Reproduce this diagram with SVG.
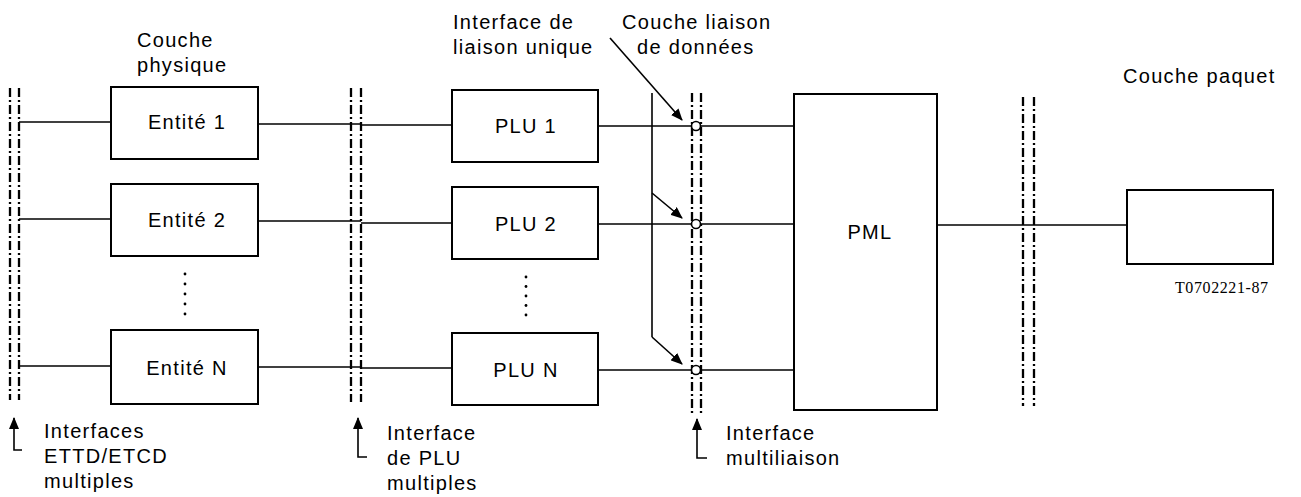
<svg xmlns="http://www.w3.org/2000/svg" width="1301" height="497" viewBox="0 0 1301 497">
<defs>
<marker id="ah" viewBox="0 0 12 10" refX="11" refY="5" markerWidth="12" markerHeight="10" markerUnits="userSpaceOnUse" orient="auto">
<path d="M0,0 L12,5 L0,10 Z" fill="#000"/>
</marker>
</defs>
<style>
text{font-family:"Liberation Sans",Arial,sans-serif;font-size:20px;letter-spacing:1.3px;fill:#000}
.c{text-anchor:middle}
.box{fill:#fff;stroke:#000;stroke-width:2}
.ln{fill:none;stroke:#000;stroke-width:1.6}
.itf{fill:none;stroke:#000;stroke-width:2.3;stroke-dasharray:9 3 2 3}
.dot{fill:#000}
.ser{font-family:"Liberation Serif","Times New Roman",serif;font-size:16px;letter-spacing:0.6px}
</style>
<rect width="1301" height="497" fill="#fff"/>

<g id="interfaces">
<line class="itf" x1="10" y1="88" x2="10" y2="400"/>
<line class="itf" x1="19" y1="88" x2="19" y2="400"/>
<line class="itf" x1="351" y1="88" x2="351" y2="402"/>
<line class="itf" x1="361" y1="88" x2="361" y2="402"/>
<line class="itf" x1="692" y1="93" x2="692" y2="415"/>
<line class="itf" x1="701" y1="93" x2="701" y2="415"/>
<line class="itf" x1="1023" y1="97" x2="1023" y2="406"/>
<line class="itf" x1="1034" y1="97" x2="1034" y2="406"/>
</g>

<g id="connectors">
<line class="ln" x1="19" y1="122" x2="111" y2="122"/>
<line class="ln" x1="19" y1="219" x2="111" y2="219"/>
<line class="ln" x1="19" y1="366" x2="111" y2="366"/>
<line class="ln" x1="258" y1="124" x2="361" y2="124"/>
<line class="ln" x1="258" y1="221" x2="361" y2="221"/>
<line class="ln" x1="258" y1="367" x2="361" y2="367"/>
<line class="ln" x1="361" y1="125" x2="452" y2="125"/>
<line class="ln" x1="361" y1="223" x2="452" y2="223"/>
<line class="ln" x1="361" y1="368" x2="452" y2="368"/>
<line class="ln" x1="598" y1="126" x2="794" y2="126"/>
<line class="ln" x1="598" y1="224" x2="794" y2="224"/>
<line class="ln" x1="598" y1="370" x2="794" y2="370"/>
<line class="ln" x1="937" y1="225" x2="1127" y2="225"/>
<polyline class="ln" points="652,93 652,337"/>
<line class="ln" x1="610" y1="38" x2="682" y2="120" marker-end="url(#ah)"/>
<line class="ln" x1="652" y1="193" x2="682" y2="218" marker-end="url(#ah)"/>
<line class="ln" x1="652" y1="337" x2="682" y2="364" marker-end="url(#ah)"/>
<circle cx="696" cy="126" r="4.5" fill="#fff" stroke="#000" stroke-width="1.6"/>
<circle cx="696" cy="224" r="4.5" fill="#fff" stroke="#000" stroke-width="1.6"/>
<circle cx="696" cy="370" r="4.5" fill="#fff" stroke="#000" stroke-width="1.6"/>
<polyline class="ln" points="22,450 14,450 14,418" marker-end="url(#ah)"/>
<polyline class="ln" points="367,457 358,457 358,418" marker-end="url(#ah)"/>
<polyline class="ln" points="707,458 697,458 697,419" marker-end="url(#ah)"/>
</g>

<g id="entite1"><rect class="box" x="111" y="87" width="147" height="72"/><text class="c" x="187" y="129">Entité 1</text></g>
<g id="entite2"><rect class="box" x="111" y="184" width="147" height="72"/><text class="c" x="187" y="227">Entité 2</text></g>
<g id="entiteN"><rect class="box" x="111" y="330" width="147" height="74"/><text class="c" x="187" y="375">Entité N</text></g>
<g id="dots1">
<circle class="dot" cx="185" cy="274" r="1.4"/><circle class="dot" cx="185" cy="284" r="1.4"/><circle class="dot" cx="185" cy="294" r="1.4"/><circle class="dot" cx="185" cy="304" r="1.4"/><circle class="dot" cx="185" cy="314" r="1.4"/>
</g>

<g id="plu1"><rect class="box" x="452" y="90" width="146" height="72"/><text class="c" x="526" y="133">PLU 1</text></g>
<g id="plu2"><rect class="box" x="452" y="187" width="146" height="72"/><text class="c" x="526" y="231">PLU 2</text></g>
<g id="pluN"><rect class="box" x="452" y="333" width="146" height="72"/><text class="c" x="526" y="377">PLU N</text></g>
<g id="dots2">
<circle class="dot" cx="526" cy="277" r="1.4"/><circle class="dot" cx="526" cy="286.5" r="1.4"/><circle class="dot" cx="526" cy="296" r="1.4"/><circle class="dot" cx="526" cy="305.5" r="1.4"/><circle class="dot" cx="526" cy="315" r="1.4"/>
</g>

<g id="pml"><rect class="box" x="794" y="94" width="143" height="316"/><text class="c" x="870" y="239">PML</text></g>
<g id="paquet"><rect class="box" x="1127" y="190" width="146" height="74"/></g>

<g id="labels">
<text x="137" y="47">Couche</text>
<text x="137" y="72">physique</text>
<text x="453" y="29">Interface de</text>
<text x="453" y="54">liaison unique</text>
<text x="622" y="29">Couche liaison</text>
<text x="637" y="54">de données</text>
<text x="1123" y="83">Couche paquet</text>
<text x="44" y="438">Interfaces</text>
<text x="44" y="463">ETTD/ETCD</text>
<text x="44" y="488">multiples</text>
<text x="387" y="440">Interface</text>
<text x="387" y="465">de PLU</text>
<text x="387" y="490">multiples</text>
<text x="726" y="440">Interface</text>
<text x="726" y="465">multiliaison</text>
<text class="ser" x="1175" y="293">T0702221-87</text>
</g>
</svg>
